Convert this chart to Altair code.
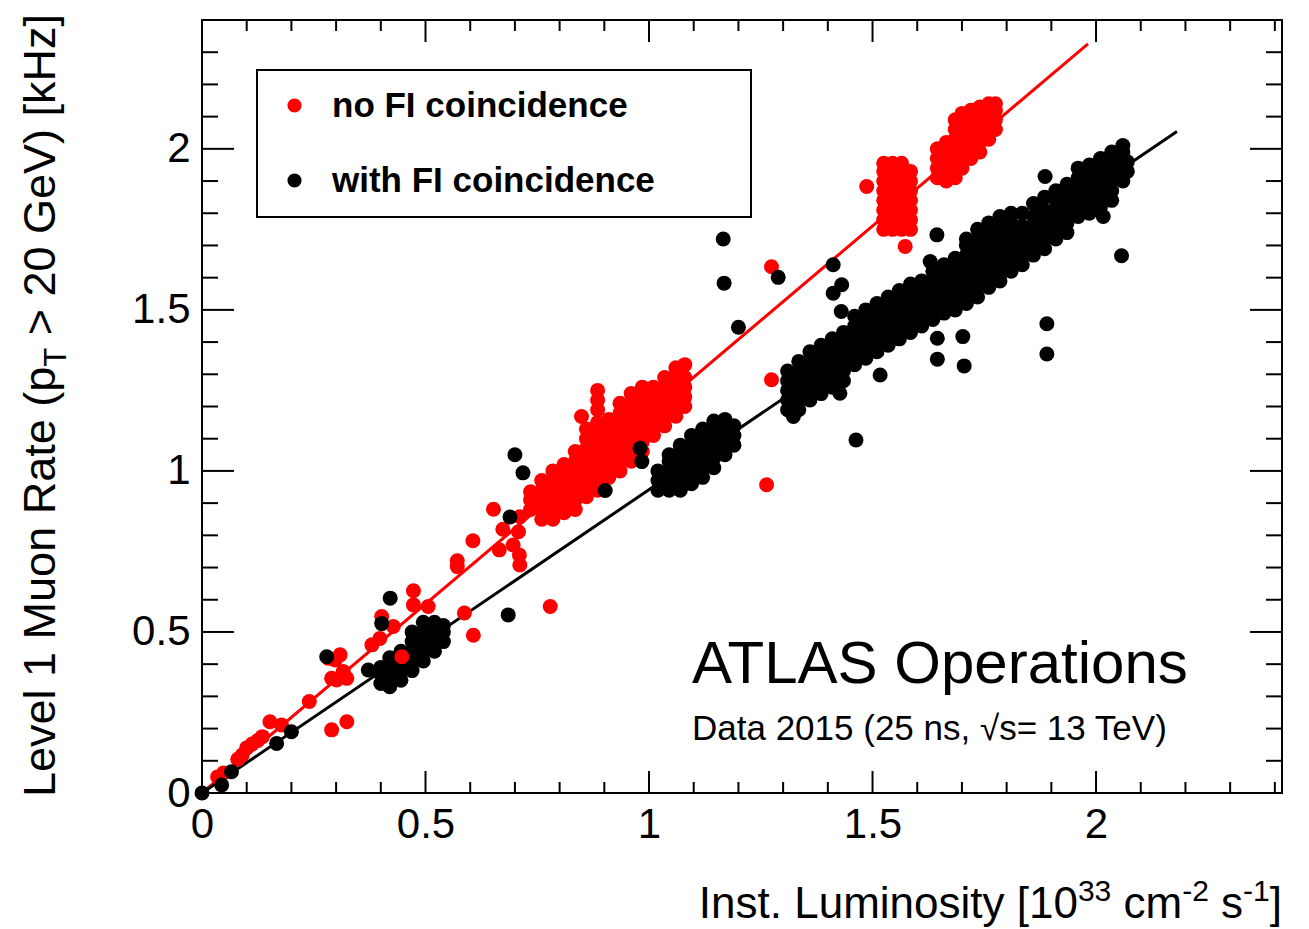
import altair as alt
import pandas as pd

# ---------------- data ----------------
series_names = ["no FI coincidence", "with FI coincidence"]
series_colors = ["#ff0000", "#000000"]

# fitted straight lines (start at origin)
fit_red_lumi = [0.0, 1.982]
fit_red_rate = [0.0, 2.326]
fit_black_lumi = [0.0, 2.181]
fit_black_rate = [0.0, 2.054]

# red: isolated / sparse points
red_iso_lumi = [0.035, 0.048, 0.080, 0.090, 0.100, 0.112, 0.125, 0.135, 0.152, 0.178,
                0.240, 0.290, 0.324, 0.283, 0.298, 0.309, 0.290, 0.301, 0.324, 0.316,
                0.380, 0.398, 0.402, 0.428, 0.473, 0.473, 0.506, 0.587, 0.607, 0.779,
                0.571, 0.571, 0.606, 0.652, 0.673, 0.708, 0.711, 0.665, 0.696, 0.710,
                0.711, 0.849, 1.274, 1.274, 1.263, 1.487, 1.573]
red_iso_rate = [0.050, 0.062, 0.105, 0.118, 0.140, 0.152, 0.163, 0.175, 0.221, 0.211,
                0.284, 0.196, 0.221, 0.418, 0.413, 0.429, 0.356, 0.351, 0.356, 0.377,
                0.460, 0.480, 0.548, 0.517, 0.628, 0.584, 0.579, 0.559, 0.490, 0.579,
                0.721, 0.703, 0.783, 0.881, 0.819, 0.811, 0.858, 0.755, 0.770, 0.739,
                0.708, 1.169, 1.634, 1.283, 0.957, 1.883, 1.697]

# red: main cloud around 0.75-1.1 (columns of points)
red_main_lumi = [0.735, 0.76, 0.785, 0.81, 0.835, 0.86, 0.885, 0.91, 0.935, 0.96,
                 0.985, 1.01, 1.035, 1.06, 1.08]
red_main_rate = [[0.88, 0.91, 0.935],
                 [0.85, 0.88, 0.91, 0.94, 0.97],
                 [0.85, 0.88, 0.91, 0.94, 0.97, 1.00],
                 [0.87, 0.90, 0.93, 0.96, 0.99, 1.02],
                 [0.88, 0.91, 0.94, 0.97, 1.00, 1.03, 1.06],
                 [0.92, 0.95, 0.98, 1.01, 1.04, 1.07, 1.10, 1.13],
                 [0.94, 0.97, 1.00, 1.03, 1.06, 1.09, 1.12, 1.15, 1.19, 1.22, 1.25],
                 [0.98, 1.01, 1.04, 1.07, 1.10, 1.13, 1.16],
                 [1.00, 1.03, 1.06, 1.09, 1.12, 1.15, 1.18, 1.21],
                 [1.03, 1.06, 1.09, 1.12, 1.15, 1.18, 1.21, 1.24],
                 [1.06, 1.09, 1.12, 1.15, 1.18, 1.21, 1.24, 1.26],
                 [1.11, 1.14, 1.17, 1.20, 1.23, 1.26],
                 [1.14, 1.17, 1.20, 1.23, 1.26, 1.29],
                 [1.17, 1.20, 1.23, 1.26, 1.29, 1.32],
                 [1.20, 1.23, 1.26, 1.29, 1.33]]

# red: cluster near 1.55
red_a_lumi = [1.525, 1.545, 1.565, 1.585]
red_a_rate = [[1.75, 1.78, 1.81, 1.84, 1.87, 1.90, 1.93, 1.955],
              [1.75, 1.78, 1.81, 1.84, 1.87, 1.90, 1.93, 1.955],
              [1.75, 1.78, 1.81, 1.84, 1.87, 1.90, 1.93, 1.955],
              [1.75, 1.78, 1.81, 1.84, 1.87, 1.90, 1.93]]

# red: cluster near 1.7
red_b_lumi = [1.645, 1.665, 1.685, 1.70, 1.72, 1.74, 1.76, 1.775]
red_b_rate = [[1.91, 1.94, 1.97, 2.00],
              [1.90, 1.93, 1.96, 1.99, 2.02],
              [1.91, 1.94, 1.97, 2.00, 2.03, 2.06, 2.09],
              [1.94, 1.97, 2.00, 2.03, 2.06, 2.09, 2.11],
              [1.97, 2.00, 2.03, 2.06, 2.09, 2.12],
              [1.99, 2.02, 2.05, 2.08, 2.11, 2.13],
              [2.03, 2.06, 2.09, 2.12, 2.14],
              [2.06, 2.09, 2.12, 2.14]]

# red point drawn on top of the black cloud
red_top_lumi = [0.447]
red_top_rate = [0.423]

# black: isolated / sparse points
black_iso_lumi = [0.0, 0.044, 0.066, 0.167, 0.200, 0.279, 0.372, 0.402, 0.421, 0.685,
                  0.689, 0.700, 0.718, 0.902, 0.980, 0.984, 1.166, 1.168, 1.289, 1.200,
                  1.412, 1.412, 1.431, 1.430, 1.629, 1.644, 1.645, 1.702, 1.645, 1.705,
                  1.517, 1.427, 1.463, 1.323, 1.890, 1.890, 2.057, 1.886, 2.016]
black_iso_rate = [0.0, 0.025, 0.066, 0.154, 0.190, 0.423, 0.382, 0.526, 0.605, 0.553,
                  0.857, 1.050, 0.994, 0.939, 1.070, 1.029, 1.720, 1.583, 1.601, 1.446,
                  1.640, 1.552, 1.578, 1.495, 1.650, 1.733, 1.412, 1.417, 1.347, 1.326,
                  1.298, 1.241, 1.096, 1.169, 1.457, 1.363, 1.668, 1.914, 1.790]

# black: cloud near 0.47
black_lo_lumi = [0.40, 0.42, 0.445, 0.47, 0.495, 0.52, 0.54]
black_lo_rate = [[0.34, 0.37, 0.39],
                 [0.33, 0.36, 0.39, 0.42],
                 [0.35, 0.38, 0.41, 0.44],
                 [0.38, 0.41, 0.44, 0.47, 0.50],
                 [0.41, 0.44, 0.47, 0.50, 0.53],
                 [0.44, 0.47, 0.50, 0.53],
                 [0.47, 0.50, 0.52]]

# black: cloud near 1.1
black_mid_lumi = [1.02, 1.045, 1.07, 1.095, 1.12, 1.145, 1.17, 1.19]
black_mid_rate = [[0.94, 0.97, 1.00],
                  [0.94, 0.97, 1.00, 1.03, 1.05],
                  [0.94, 0.97, 1.00, 1.03, 1.06, 1.08],
                  [0.96, 0.99, 1.02, 1.05, 1.08, 1.11],
                  [0.98, 1.01, 1.04, 1.07, 1.10, 1.13],
                  [1.01, 1.04, 1.07, 1.10, 1.13, 1.155],
                  [1.05, 1.08, 1.11, 1.14, 1.16],
                  [1.08, 1.11, 1.14]]

# black: long band 1.3 - 2.07
black_band_lumi = [1.31, 1.335, 1.36, 1.385, 1.41, 1.435, 1.46, 1.485, 1.51, 1.535,
                   1.56, 1.585, 1.61, 1.635, 1.66, 1.685, 1.71, 1.735, 1.76, 1.785,
                   1.81, 1.835, 1.86, 1.885, 1.91, 1.935, 1.96, 1.985, 2.01, 2.035,
                   2.06, 2.07]
black_band_rate = [[1.19, 1.22, 1.25, 1.28, 1.31],
                   [1.19, 1.22, 1.25, 1.28, 1.31, 1.34],
                   [1.22, 1.25, 1.28, 1.31, 1.34, 1.37],
                   [1.24, 1.27, 1.30, 1.33, 1.36, 1.39],
                   [1.26, 1.29, 1.32, 1.35, 1.38, 1.41],
                   [1.28, 1.31, 1.34, 1.37, 1.40, 1.43],
                   [1.33, 1.36, 1.39, 1.42, 1.45, 1.48],
                   [1.35, 1.38, 1.41, 1.44, 1.47, 1.50],
                   [1.37, 1.40, 1.43, 1.46, 1.49, 1.52],
                   [1.39, 1.42, 1.45, 1.48, 1.51, 1.54],
                   [1.41, 1.44, 1.47, 1.50, 1.53, 1.56],
                   [1.43, 1.46, 1.49, 1.52, 1.55, 1.58],
                   [1.45, 1.48, 1.51, 1.54, 1.57, 1.59],
                   [1.47, 1.50, 1.53, 1.56, 1.59, 1.62],
                   [1.49, 1.52, 1.55, 1.58, 1.61, 1.64],
                   [1.50, 1.53, 1.56, 1.59, 1.62, 1.66],
                   [1.52, 1.55, 1.58, 1.61, 1.64, 1.67, 1.70, 1.72],
                   [1.54, 1.57, 1.60, 1.63, 1.66, 1.69, 1.72, 1.75],
                   [1.57, 1.60, 1.63, 1.66, 1.69, 1.72, 1.75, 1.77],
                   [1.59, 1.62, 1.65, 1.68, 1.71, 1.74, 1.77, 1.79],
                   [1.62, 1.65, 1.68, 1.71, 1.74, 1.77, 1.80],
                   [1.64, 1.67, 1.70, 1.73, 1.76, 1.80],
                   [1.67, 1.70, 1.73, 1.76, 1.79, 1.83],
                   [1.69, 1.72, 1.75, 1.78, 1.81, 1.85],
                   [1.72, 1.75, 1.78, 1.81, 1.84, 1.87],
                   [1.74, 1.77, 1.80, 1.83, 1.86, 1.89],
                   [1.79, 1.82, 1.85, 1.88, 1.91, 1.94],
                   [1.80, 1.83, 1.86, 1.89, 1.92, 1.95],
                   [1.82, 1.85, 1.88, 1.91, 1.94, 1.97],
                   [1.84, 1.87, 1.90, 1.93, 1.96, 1.99],
                   [1.90, 1.93, 1.96, 1.99, 2.01],
                   [1.93, 1.96]]

# axis ticks
x_major = [0, 0.5, 1, 1.5, 2]
x_minor = [0.1, 0.2, 0.3, 0.4, 0.6, 0.7, 0.8, 0.9, 1.1, 1.2, 1.3, 1.4,
           1.6, 1.7, 1.8, 1.9, 2.1, 2.2, 2.3, 2.4]
y_major = [0, 0.5, 1, 1.5, 2]
y_minor = [0.1, 0.2, 0.3, 0.4, 0.6, 0.7, 0.8, 0.9, 1.1, 1.2, 1.3, 1.4,
           1.6, 1.7, 1.8, 1.9, 2.1, 2.2, 2.3]

# ---------------- build tables ----------------
def columns(xs, yss):
    ox, oy = [], []
    for x, ys in zip(xs, yss):
        for y in ys:
            ox.append(x)
            oy.append(y)
    return ox, oy

parts = []
def add(xs, ys, s):
    assert len(xs) == len(ys)
    parts.append(pd.DataFrame({"lumi": xs, "rate": ys, "series": s}))

add(red_iso_lumi, red_iso_rate, series_names[0])
add(*columns(red_main_lumi, red_main_rate), series_names[0])
add(*columns(red_a_lumi, red_a_rate), series_names[0])
add(*columns(red_b_lumi, red_b_rate), series_names[0])
add(black_iso_lumi, black_iso_rate, series_names[1])
add(*columns(black_lo_lumi, black_lo_rate), series_names[1])
add(*columns(black_mid_lumi, black_mid_rate), series_names[1])
add(*columns(black_band_lumi, black_band_rate), series_names[1])
add(red_top_lumi, red_top_rate, series_names[0])
points = pd.concat(parts, ignore_index=True)
points["idx"] = range(len(points))

W, H = 1080, 773
FONT = "Liberation Sans"

xscale = alt.Scale(domain=[0, 2.416], nice=False, zero=False)
yscale = alt.Scale(domain=[0, 2.4], nice=False, zero=False)
xaxis = alt.Axis(values=x_major, format="~g", ticks=False, tickSize=0, domain=False,
                 grid=False, labelFont=FONT, labelFontSize=42, labelColor="black",
                 labelPadding=44, labelBaseline="alphabetic", labelFlush=False,
                 labelOverlap=False, title=None)
yaxis = alt.Axis(values=y_major, format="~g", ticks=False, tickSize=0, domain=False,
                 grid=False, labelFont=FONT, labelFontSize=42, labelColor="black",
                 labelPadding=12, labelFlush=False, labelOverlap=False, title=None)

def X(f):
    return alt.X(f, type="quantitative", scale=xscale, axis=xaxis)

def Y(f):
    return alt.Y(f, type="quantitative", scale=yscale, axis=yaxis)

line_red = alt.Chart(pd.DataFrame({"lumi": fit_red_lumi, "rate": fit_red_rate})).mark_line(
    strokeWidth=3, color=series_colors[0]).encode(x=X("lumi"), y=Y("rate"))
line_black = alt.Chart(pd.DataFrame({"lumi": fit_black_lumi, "rate": fit_black_rate})).mark_line(
    strokeWidth=3, color=series_colors[1]).encode(x=X("lumi"), y=Y("rate"))

pad_chars = "\u2800" * 3   # blank (non-whitespace) glyphs to widen the legend box
dots = alt.Chart(points).mark_circle(size=225, opacity=1).encode(
    x=X("lumi"), y=Y("rate"),
    color=alt.Color("series:N", scale=alt.Scale(domain=series_names, range=series_colors),
                    legend=alt.Legend(title=None, orient="none", legendX=55, legendY=50,
                                      strokeColor="black", fillColor="white", padding=18,
                                      rowPadding=39, symbolOffset=2, labelOffset=20,
                                      labelFont=FONT, labelFontSize=35, labelFontWeight="bold",
                                      labelColor="black", labelLimit=1000, symbolSize=200,
                                      symbolType="circle", symbolStrokeWidth=0,
                                      labelExpr="datum.label + '" + pad_chars + "'")),
    order=alt.Order("idx:Q"),
)

# inside ticks on all four sides
tick_layers = []
def xticks(vals, length):
    d = pd.DataFrame({"v": vals})
    base = alt.Chart(d).mark_rule(color="black", strokeWidth=2)
    tick_layers.append(base.encode(x=X("v"), y=alt.value(H), y2=alt.value(H - length)))
    tick_layers.append(base.encode(x=X("v"), y=alt.value(0), y2=alt.value(length)))

def yticks(vals, length):
    d = pd.DataFrame({"v": vals})
    base = alt.Chart(d).mark_rule(color="black", strokeWidth=2)
    tick_layers.append(base.encode(y=Y("v"), x=alt.value(0), x2=alt.value(length)))
    tick_layers.append(base.encode(y=Y("v"), x=alt.value(W - length), x2=alt.value(W)))

xticks(x_major, 22)
xticks(x_minor, 11)
yticks(y_major, 32)
yticks(y_minor, 16)

one = pd.DataFrame({"a": [0]})
def label(text, x, y, size, **kw):
    props = dict(text=text, font=FONT, fontSize=size, color="black", align="left",
                 baseline="alphabetic")
    props.update(kw)
    return alt.Chart(one).mark_text(**props).encode(x=alt.value(x), y=alt.value(y))

texts = [
    label("ATLAS Operations", 490, 663, 60),
    label("Data 2015 (25 ns, \u221as= 13 TeV)", 490, 720, 35),
    # x title, composed right-to-left with raised exponents
    label("]", W, 898, 44, align="right"),
    label("-1", 1067.8, 881, 30, align="right"),
    label("s", 1041.1, 898, 44, align="right"),
    label("-2", 1006.9, 881, 30, align="right"),
    label("cm", 980.2, 898, 44, align="right"),
    label("33", 909.3, 881, 30, align="right"),
    label("Inst. Luminosity [10", 875.9, 898, 44, align="right"),
    # y title with subscript T
    label("Level 1 Muon Rate (p", -147, 777, 45, angle=270),
    label("T", -136, 346.8, 31, angle=270),
    label("> 20 GeV) [kHz]", -147, 315.3, 45, angle=270),
]

chart = alt.layer(line_red, line_black, dots, *tick_layers, *texts).properties(
    width=W, height=H,
    padding={"left": 202, "top": 20, "right": 27, "bottom": 136},
    autosize=alt.AutoSizeParams(type="none"),
    background="white",
).configure_view(stroke="black", strokeWidth=2).configure_legend(strokeWidth=2)

chart.save("out.html", embed_options={"renderer": "svg", "actions": False})
